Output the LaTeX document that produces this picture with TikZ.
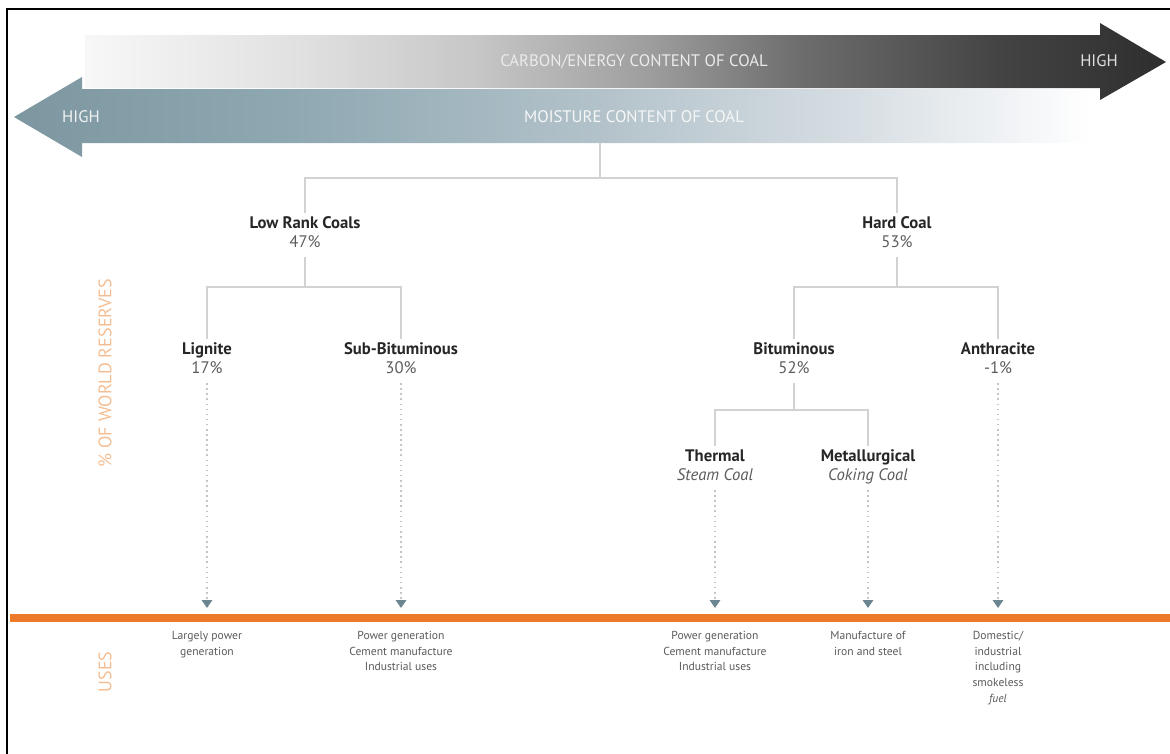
\documentclass[tikz,border=0pt]{standalone}
\usepackage{fontspec}
\setmainfont{PT Sans}
\usetikzlibrary{positioning,arrows.meta}
\definecolor{coalorange}{HTML}{EC7A2A}
\definecolor{treegrey}{HTML}{D2D2D2}
\definecolor{dotgrey}{HTML}{C4C4C4}
\definecolor{pctgrey}{HTML}{5C5C5C}
\definecolor{headgrey}{HTML}{262626}
\definecolor{usegrey}{HTML}{5A5A5A}
\definecolor{tipblue}{HTML}{6B8591}
\definecolor{sideorange}{HTML}{F5BE92}
% stops at 25bp and 75bp are the left and right ends of the filled path
\pgfdeclarehorizontalshading{carbonshade}{100bp}{%
  rgb(0bp)=(0.97,0.97,0.97); rgb(25bp)=(0.97,0.97,0.97);
  rgb(35bp)=(0.88,0.88,0.88); rgb(43bp)=(0.78,0.78,0.78);
  rgb(51bp)=(0.62,0.62,0.62); rgb(58bp)=(0.43,0.43,0.43);
  rgb(67bp)=(0.27,0.27,0.27); rgb(75bp)=(0.18,0.18,0.18);
  rgb(100bp)=(0.18,0.18,0.18)}
\pgfdeclarehorizontalshading{moistshade}{100bp}{%
  rgb(0bp)=(0.49,0.59,0.63); rgb(25bp)=(0.49,0.59,0.63);
  rgb(38bp)=(0.56,0.66,0.70); rgb(52bp)=(0.70,0.76,0.79);
  rgb(64bp)=(0.84,0.87,0.89); rgb(71bp)=(0.94,0.95,0.96);
  rgb(75bp)=(1,1,1); rgb(100bp)=(1,1,1)}
\newcommand{\pctxt}[1]{{\mdseries\color{pctgrey}#1\strut}}
\tikzset{
  fig/.style={font=\fontsize{9.5}{11}\selectfont},
  frame/.style={draw=black,line width=1.2pt},
  coal/.style={align=center,inner sep=2pt,text=headgrey,
               font=\fontsize{9.5}{10.8}\selectfont},
  scaletxt/.style={font=\fontsize{9.5}{11}\selectfont,inner sep=1pt},
  use/.style={align=center,anchor=north,inner sep=1pt,text=usegrey,
              font=\fontsize{6.6}{9}\selectfont},
  side/.style={rotate=90,text=sideorange,inner sep=1pt,
               font=\fontsize{10.3}{12}\selectfont},
  tree/.style={draw=treegrey,line width=1.1pt},
  dotln/.style={draw=dotgrey,line width=0.9pt,dotted,
                -{Triangle[length=1.6mm,width=2.1mm,color=tipblue]}},
  rail/.style={draw=coalorange,line width=4pt},
}

\begin{document}
\begin{tikzpicture}[x=0.02cm,y=-0.02cm,fig]
\useasboundingbox (0,0) rectangle (1170,754);

\draw[frame] (7,754) -- (7,9) -- (1170,9);

% --- the two scales ------------------------------------------------------
\shade[shading=carbonshade] (85,35) -- (1100,35) -- (1100,23) -- (1166,62)
      -- (1100,100) -- (1100,88) -- (85,88) -- cycle;
\shade[shading=moistshade] (14,117) -- (82,77) -- (82,89) -- (1090,89)
      -- (1090,143) -- (82,143) -- (82,157) -- cycle;

\node[scaletxt,text=white!92!black] (carbon) at (634,62) {CARBON/ENERGY CONTENT OF COAL};
\node[scaletxt,text=white!88!black] (chigh) at (1099,61) {HIGH};
\node[scaletxt,text=white!93!tipblue] (moist) at (634,117) {MOISTURE CONTENT OF COAL};
\node[scaletxt,text=white!90!tipblue] (mhigh) at (81,117) {HIGH};

% --- side labels
\node[side] (reserves) at (105,373) {\% OF WORLD RESERVES};
\node[side] (uses) at (105,672) {USES};

% --- tree -----------------------------------------------------------------
\coordinate (stem) at (600,143);
\coordinate (jtop) at (600,178);
\coordinate (jl) at (305,287);
\coordinate (jh) at (897,287);
\coordinate (jb) at (794,410);

\node[coal] (lrc) at (305,235) {\textbf{Low Rank Coals}\\\pctxt{47\%}};
\node[coal] (hc)  at (897,235) {\textbf{Hard Coal}\\\pctxt{53\%}};
\node[coal] (lig) at (207,361) {\textbf{Lignite}\\\pctxt{17\%}};
\node[coal] (sub) at (401,361) {\textbf{Sub-Bituminous}\\\pctxt{30\%}};
\node[coal] (bit) at (794,361) {\textbf{Bituminous}\\\pctxt{52\%}};
\node[coal] (ant) at (998,361) {\textbf{Anthracite}\\\pctxt{-1\%}};
\node[coal] (thm) at (715,468) {\textbf{Thermal}\\\pctxt{\itshape Steam Coal}};
\node[coal] (met) at (868,468) {\textbf{Metallurgical}\\\pctxt{\itshape Coking Coal}};

\draw[tree] (stem) -- (jtop);
\draw[tree] (jtop) -| (lrc);
\draw[tree] (jtop) -| (hc);
\draw[tree] (lrc) -- (jl);
\draw[tree] (jl) -| (lig);
\draw[tree] (jl) -| (sub);
\draw[tree] (hc) -- (jh);
\draw[tree] (jh) -| (bit);
\draw[tree] (jh) -| (ant);
\draw[tree] (bit) -- (jb);
\draw[tree] (jb) -| (thm);
\draw[tree] (jb) -| (met);

% --- down to the uses
\foreach \n/\x in {lig/207,sub/401,thm/715,met/868,ant/998}
  \coordinate (t\n) at (\x,608);
\foreach \n in {lig,sub,thm,met,ant}
  \draw[dotln] (\n) -- (t\n);

\coordinate (rl) at (10,618);
\coordinate (rr) at (1170,618);
\draw[rail] (rl) -- (rr);

\node[use] (ulig) at (207,629) {Largely power\\generation};
\node[use] (usub) at (401,629) {Power generation\\Cement manufacture\\Industrial uses};
\node[use] (uthm) at (715,629) {Power generation\\Cement manufacture\\Industrial uses};
\node[use] (umet) at (868,629) {Manufacture of\\iron and steel};
\node[use] (uant) at (998,629) {Domestic/\\industrial\\including\\smokeless\\\textit{fuel}};

\end{tikzpicture}
\end{document}
